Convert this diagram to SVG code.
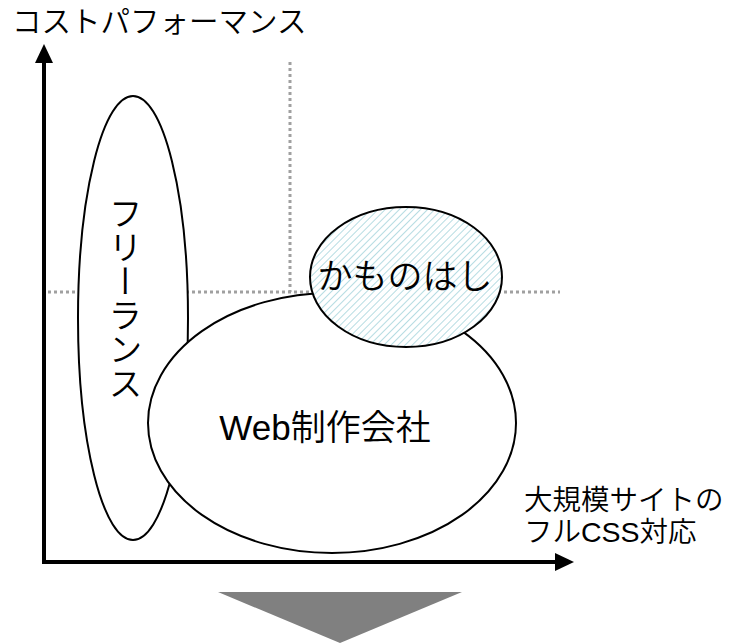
<svg xmlns="http://www.w3.org/2000/svg" width="729" height="643" viewBox="0 0 729 643">
<style>
text{font-family:"Liberation Sans","Noto Sans CJK JP",sans-serif;font-weight:350;fill:#000}
.ell{stroke:#000;stroke-width:2}
.dot{stroke:#a0a0a0;stroke-width:3;stroke-dasharray:3 3;fill:none}
.axis{stroke:#000;stroke-width:4;fill:none}
</style>
<defs>
<pattern id="hatch" patternUnits="userSpaceOnUse" width="5" height="5" patternTransform="rotate(45)">
<rect width="5" height="5" fill="#fff"/>
<line x1="0" y1="0" x2="0" y2="5" stroke="#a9d6dd" stroke-width="1.7"/>
</pattern>
</defs>
<g id="grid">
<line class="dot" x1="290" y1="62" x2="290" y2="292"/>
<line class="dot" x1="48" y1="292" x2="560" y2="292"/>
</g>
<g id="axes">
<line class="axis" x1="44" y1="564" x2="44" y2="60"/>
<polygon points="44,44 35,63 53,63" fill="#000"/>
<line class="axis" x1="42" y1="562" x2="558" y2="562"/>
<polygon points="574,562 555,553 555,571" fill="#000"/>
</g>
<g id="freelance">
<ellipse class="ell" cx="133" cy="318" rx="55" ry="222" fill="#fff"/>
<text x="123" y="298" font-size="34" style="writing-mode:vertical-rl;text-orientation:upright" text-anchor="middle">フリーランス</text>
</g>
<g id="web">
<ellipse class="ell" cx="332" cy="423" rx="184" ry="130" fill="#fff"/>
<text x="325" y="440" font-size="35" text-anchor="middle">Web制作会社</text>
</g>
<g id="kamonohashi">
<ellipse class="ell" cx="406" cy="277" rx="96" ry="70" fill="url(#hatch)"/>
<text x="405" y="289" font-size="35" text-anchor="middle">かものはし</text>
</g>
<g id="labels">
<text x="12" y="32" font-size="29.5">コストパフォーマンス</text>
<text x="524" y="510" font-size="28.5">大規模サイトの</text>
<text x="524" y="542" font-size="28.5">フルCSS対応</text>
</g>
<g id="bottom-arrow">
<polygon points="218,592 462,592 340,643" fill="#808080"/>
</g>
</svg>
